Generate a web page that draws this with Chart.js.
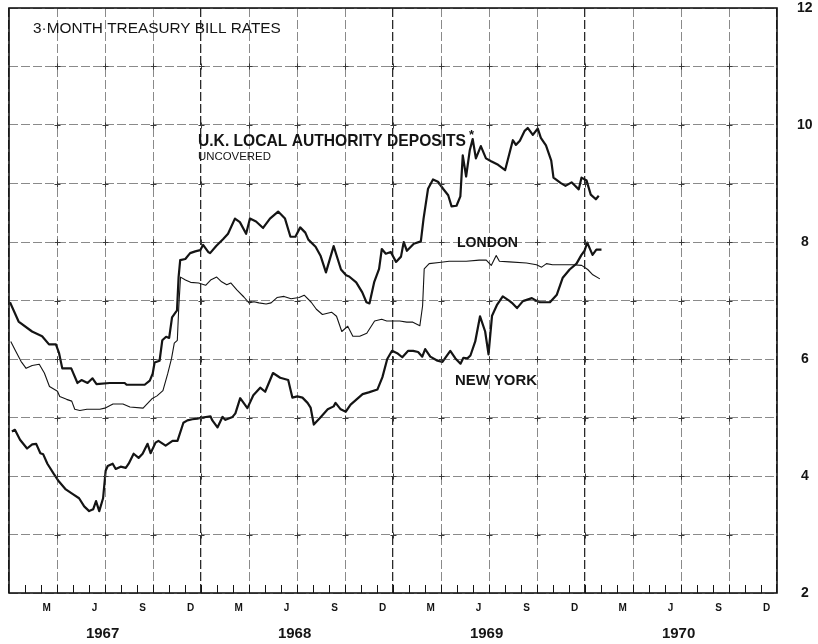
<!DOCTYPE html>
<html>
<head>
<meta charset="utf-8">
<title>3-Month Treasury Bill Rates</title>
<script src="https://cdn.jsdelivr.net/npm/chart.js@4/dist/chart.umd.min.js"></script>
<style>
  html, body { margin: 0; padding: 0; background: #fff; }
  #wrap { width: 818px; height: 644px; position: relative; }
</style>
</head>
<body>
<div id="wrap"><canvas id="rates"></canvas></div>
<script>
'use strict';

// months since start of Jan 1967 -> per cent per annum (weekly readings)
const ukMonths = [0.06,0.60,1.44,2.07,2.50,2.93,3.13,3.33,3.89,4.28,
  4.53,4.91,5.22,5.47,6.29,7.23,7.35,8.48,8.80,8.98,
  9.10,9.41,9.58,9.82,10.01,10.19,10.50,10.60,10.70,11.02,
  11.32,11.64,11.95,12.13,12.45,12.57,12.95,13.39,13.69,14.12,
  14.43,14.82,15.06,15.44,15.88,16.31,16.82,17.25,17.59,17.90,
  18.20,18.52,18.71,19.16,19.48,19.81,20.29,20.75,21.07,21.26,
  21.70,22.08,22.34,22.53,22.83,23.13,23.30,23.55,23.86,24.19,
  24.50,24.67,24.87,25.30,25.74,25.91,26.19,26.50,26.81,27.13,
  27.45,27.66,27.97,28.21,28.36,28.57,28.80,28.98,29.18,29.49,
  29.81,30.13,30.57,31.01,31.49,31.68,31.93,32.23,32.42,32.74,
  33.05,33.24,33.56,33.89,34.03,34.47,34.78,35.16,35.61,35.78,
  36.10,36.36,36.68,36.86];
const ukRates = [6.97,6.64,6.47,6.39,6.25,6.25,6.10,5.84,5.84,5.59,
  5.64,5.59,5.67,5.57,5.59,5.59,5.56,5.56,5.63,5.75,
  5.94,5.97,6.32,6.38,6.36,6.71,6.83,7.40,7.69,7.71,
  7.81,7.84,7.86,7.95,7.83,7.81,7.93,8.05,8.14,8.40,
  8.34,8.14,8.40,8.35,8.24,8.40,8.52,8.40,8.09,8.09,
  8.25,8.16,8.04,7.92,7.76,7.48,7.93,7.53,7.43,7.41,
  7.31,7.14,6.97,6.95,7.32,7.54,7.88,7.80,7.83,7.66,
  7.75,8.00,7.85,7.97,8.01,8.40,8.91,9.07,9.03,8.91,
  8.80,8.61,8.62,8.78,9.48,9.12,9.57,9.76,9.43,9.64,
  9.43,9.38,9.32,9.23,9.74,9.66,9.73,9.90,9.95,9.83,
  9.94,9.78,9.65,9.39,9.10,9.01,8.96,9.02,8.90,9.10,
  9.05,8.81,8.73,8.79];

const londonMonths = [0.11,0.43,0.75,1.07,1.45,1.89,2.21,2.53,3.03,3.17,
  3.60,3.92,4.11,4.43,4.87,5.68,5.99,6.50,7.12,7.56,
  8.38,8.93,9.25,9.62,9.92,10.16,10.33,10.52,10.61,10.72,
  11.03,11.35,11.85,12.29,12.60,12.98,13.29,13.61,13.86,14.24,
  14.68,15.00,15.31,15.62,16.07,16.38,16.75,17.19,17.63,18.13,
  18.45,18.89,19.21,19.59,20.16,20.47,20.80,21.17,21.49,21.92,
  22.36,22.85,23.29,23.61,23.98,24.42,24.86,25.24,25.68,25.85,
  25.95,26.26,26.88,27.51,28.58,29.39,29.83,30.14,30.45,30.65,
  31.27,32.34,32.97,33.29,33.59,33.97,34.60,35.22,35.79,36.17,
  36.49,36.93];
const londonRates = [6.30,6.13,5.96,5.84,5.89,5.91,5.76,5.53,5.45,5.36,
  5.31,5.28,5.14,5.12,5.14,5.14,5.16,5.23,5.23,5.18,
  5.16,5.32,5.37,5.46,5.75,6.01,6.27,6.32,6.88,7.40,
  7.35,7.31,7.30,7.26,7.35,7.40,7.32,7.27,7.30,7.18,
  7.06,6.96,6.98,6.96,6.94,6.96,7.05,7.07,7.03,7.05,
  7.09,6.97,6.85,6.76,6.80,6.73,6.47,6.56,6.39,6.39,
  6.44,6.65,6.68,6.65,6.65,6.65,6.63,6.63,6.57,6.91,
  7.54,7.63,7.65,7.67,7.67,7.69,7.69,7.60,7.77,7.67,
  7.66,7.64,7.61,7.57,7.63,7.61,7.61,7.61,7.60,7.53,
  7.44,7.37];

const nyMonths = [0.18,0.37,0.69,1.13,1.45,1.70,1.96,2.14,2.40,2.79,
  3.11,3.55,3.99,4.38,4.70,5.01,5.26,5.44,5.64,5.88,
  6.04,6.17,6.48,6.67,6.98,7.30,7.48,7.79,8.10,8.35,
  8.66,8.85,9.16,9.34,9.79,10.22,10.53,10.90,11.15,11.46,
  11.77,12.09,12.59,12.71,13.03,13.34,13.53,13.97,14.15,14.45,
  14.90,15.27,15.70,16.01,16.50,16.95,17.45,17.71,18.02,18.34,
  18.66,18.85,19.05,19.49,19.92,20.29,20.41,20.73,21.05,21.35,
  22.10,22.48,23.03,23.34,23.64,23.94,24.26,24.58,24.95,25.26,
  25.57,25.83,26.01,26.33,26.78,27.09,27.58,27.90,28.22,28.40,
  28.65,28.84,29.14,29.44,29.76,29.97,30.19,30.49,30.86,31.30,
  31.43,31.75,32.12,32.68,33.00,33.18,33.81,34.24,34.61,35.04,
  35.47,35.78,35.97,36.14,36.47,36.71,37.03];
const nyRates = [4.76,4.79,4.62,4.47,4.54,4.55,4.39,4.37,4.21,4.04,
  3.91,3.77,3.69,3.62,3.48,3.40,3.43,3.57,3.40,3.62,
  4.09,4.17,4.21,4.12,4.16,4.14,4.21,4.38,4.31,4.38,
  4.55,4.39,4.57,4.60,4.52,4.60,4.60,4.91,4.95,4.97,
  4.98,5.00,5.02,4.95,4.83,5.01,4.96,5.01,5.07,5.33,
  5.16,5.38,5.51,5.44,5.76,5.68,5.64,5.34,5.36,5.34,
  5.25,5.17,4.88,5.01,5.14,5.19,5.25,5.14,5.10,5.22,
  5.40,5.43,5.48,5.69,6.00,6.14,6.10,6.03,6.14,6.14,
  6.12,6.04,6.17,6.04,5.97,5.95,6.14,6.01,5.92,6.02,
  6.01,6.06,6.30,6.73,6.47,6.08,6.74,6.92,7.07,6.99,
  6.96,6.87,6.99,7.04,6.99,6.97,6.97,7.10,7.39,7.53,
  7.63,7.78,7.85,7.99,7.78,7.87,7.87];

// axis labels
const monthLetters = ['M','J','S','D'];
const monthTickPos = [2.35, 5.35, 8.35, 11.35];
const years = ['1967','1968','1969','1970'];
const yearTickPos = [5.85];
const rateTicks = [2, 4, 6, 8, 10, 12];

const pts = (xs, ys) => xs.map((m, i) => ({ x: m, y: ys[i] }));

const FONT = '"Liberation Sans", Arial, sans-serif';
const INK = '#141414';

// frame, monthly inner ticks, grid crosses and the text labels
const decorate = {
  id: 'decorate',
  afterDraw(chart) {
    const { ctx, chartArea: a, scales } = chart;
    const xs = scales.x, ys = scales.y;
    ctx.save();
    ctx.strokeStyle = INK;
    ctx.lineWidth = 1;
    for (let m = 1; m < 48; m++) {
      const px = Math.round(xs.getPixelForValue(m)) + 0.5;
      ctx.beginPath();
      ctx.moveTo(px, a.bottom);
      ctx.lineTo(px, a.bottom - 8);
      ctx.stroke();
    }
    // small "+" where the grid lines cross
    ctx.strokeStyle = '#3a3a3a';
    for (let m = 3; m < 48; m += 3) {
      for (let r = 3; r < 12; r++) {
        const px = Math.round(xs.getPixelForValue(m)) + 0.5;
        const py = Math.round(ys.getPixelForValue(r)) + 0.5;
        ctx.beginPath();
        ctx.moveTo(px - 3, py); ctx.lineTo(px + 3, py);
        ctx.moveTo(px, py - 3); ctx.lineTo(px, py + 3);
        ctx.stroke();
      }
    }
    ctx.strokeStyle = INK;
    ctx.lineWidth = 1.6;
    ctx.strokeRect(a.left, a.top, a.right - a.left, a.bottom - a.top);

    ctx.fillStyle = INK;
    ctx.textBaseline = 'middle';
    ctx.textAlign = 'left';
    const fit = (txt, x, y, w, weight, base) => {
      ctx.font = `${weight} ${base}px ${FONT}`;
      const size = base * w / ctx.measureText(txt).width;
      ctx.font = `${weight} ${size.toFixed(2)}px ${FONT}`;
      ctx.fillText(txt, x, y);
    };
    fit('3·MONTH TREASURY BILL RATES', 33, 29, 248, 'normal', 14);
    fit('U.K. LOCAL AUTHORITY DEPOSITS', 198, 142, 268, 'bold', 14);
    ctx.font = `bold 13px ${FONT}`;
    ctx.fillText('*', 469, 135);
    fit('UNCOVERED', 198, 157, 73, 'normal', 10);
    fit('LONDON', 457, 243, 61, 'bold', 13);
    fit('NEW YORK', 455, 381, 82, 'bold', 13);
    ctx.restore();
  }
};

const noPad = s => { s.paddingLeft = 0; s.paddingRight = 0; s.paddingTop = 0; s.paddingBottom = 0; };

const labelAxis = (weight, height, pos, labels, size) => ({
  type: 'linear',
  position: 'bottom',
  min: 0, max: 48,
  weight: weight,
  grid: { display: false, drawTicks: false },
  border: { display: false },
  afterBuildTicks: s => {
    const t = [];
    for (let y = 0; y < 4; y++) pos.forEach(p => t.push({ value: y * 12 + p }));
    s.ticks = t;
  },
  afterFit: s => { s.height = height; noPad(s); },
  ticks: {
    autoSkip: false, maxRotation: 0, padding: size > 12 ? 6 : 9,
    color: INK,
    font: { family: FONT, weight: 'bold', size: size },
    callback: (v, i) => labels[i % labels.length]
  }
});

new Chart(document.getElementById('rates'), {
  type: 'line',
  data: {
    datasets: [
      { label: 'U.K. local authority deposits', data: pts(ukMonths, ukRates),
        borderColor: INK, borderWidth: 2.2 },
      { label: 'London', data: pts(londonMonths, londonRates),
        borderColor: INK, borderWidth: 1.1 },
      { label: 'New York', data: pts(nyMonths, nyRates),
        borderColor: INK, borderWidth: 2.2 }
    ]
  },
  options: {
    responsive: true,
    maintainAspectRatio: false,
    animation: false,
    layout: { autoPadding: false, padding: { left: 9, top: 8, right: 0, bottom: 0 } },
    elements: { point: { radius: 0 }, line: { tension: 0, borderJoinStyle: 'round' } },
    plugins: { legend: { display: false }, tooltip: { enabled: false } },
    scales: {
      x: {
        type: 'linear', position: 'bottom', min: 0, max: 48, weight: 0,
        afterBuildTicks: s => {
          const t = [];
          for (let m = 0; m <= 48; m += 3) t.push({ value: m });
          s.ticks = t;
        },
        afterFit: s => { s.height = 0; noPad(s); },
        ticks: { display: false },
        border: { display: false, dash: [9, 3] },
        grid: {
          drawTicks: false,
          color: c => (c.tick && c.tick.value % 12 === 0) ? '#2a2a2a' : '#8a8a8a',
          lineWidth: c => (c.tick && c.tick.value % 12 === 0) ? 1.3 : 1
        }
      },
      xm: labelAxis(1, 26, monthTickPos, monthLetters, 10),
      xy: labelAxis(2, 25, yearTickPos, years, 15),
      y: {
        position: 'right', min: 2, max: 12,
        afterFit: s => { s.width = 41; noPad(s); },
        border: { display: false, dash: [9, 3] },
        grid: { drawTicks: false, color: '#8a8a8a', lineWidth: 1 },
        ticks: {
          stepSize: 1, padding: 20, crossAlign: 'center', color: INK,
          font: { family: FONT, weight: 'bold', size: 14 },
          callback: v => rateTicks.includes(v) ? String(v) : ''
        }
      }
    }
  },
  plugins: [decorate]
});
</script>
</body>
</html>
